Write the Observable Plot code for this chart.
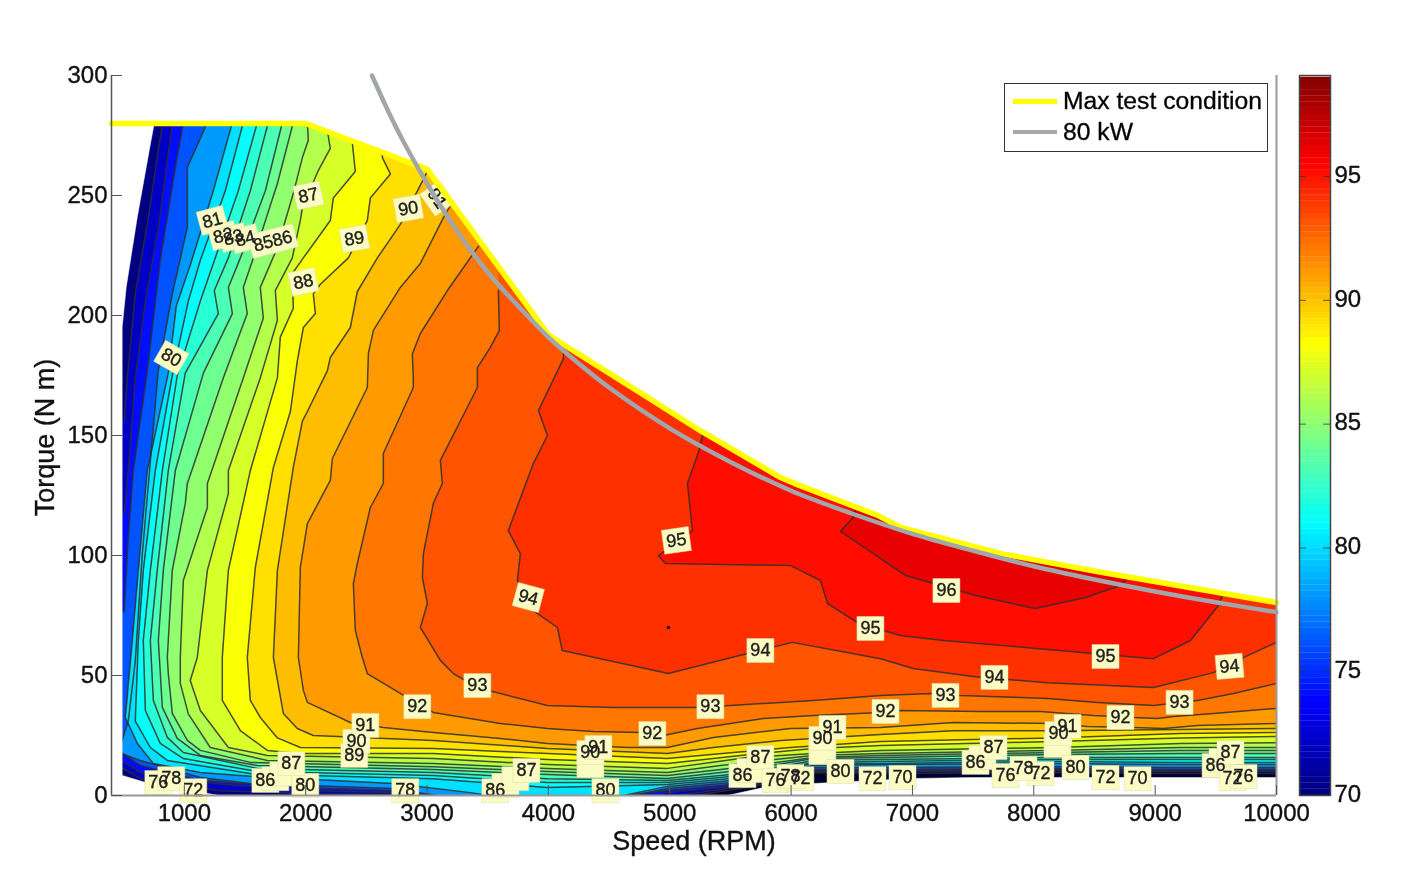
<!DOCTYPE html>
<html><head><meta charset="utf-8">
<script src="https://cdn.jsdelivr.net/npm/d3@7"></script>
<script src="https://cdn.jsdelivr.net/npm/@observablehq/plot@0.6"></script>
<style>
html,body{margin:0;padding:0;background:#fff;}
#wrap{position:relative;width:1416px;height:894px;overflow:hidden;font-family:"Liberation Sans",Arial,sans-serif;}
#wrap svg{position:absolute;top:0;filter:blur(0.55px);}
#wrap svg text{stroke:#111;stroke-width:.35px;}
#legend{position:absolute;left:1004px;top:83px;width:262px;height:67px;border:1.6px solid #333;background:#fff;color:#000;font-size:24.7px;filter:blur(0.45px);-webkit-text-stroke:.35px #111;}
#legend .row{position:absolute;left:8px;display:flex;align-items:center;height:30px;white-space:nowrap;}
#legend .sw{display:inline-block;width:44px;margin-right:6px;}
</style></head><body><div id="wrap"></div>
<script>
// ---- axis ticks ----
const speedTicks = [1000,2000,3000,4000,5000,6000,7000,8000,9000,10000];
const torqueTicks = [0,50,100,150,200,250,300];
const barTicks = [70,75,80,85,90,95];

// ---- boundary curves: [speed RPM, torque N m] ----
const maxTest = [[400,280],[2000,280],[3000,261],[4000,192],[4121,188],[4815,166],[5252,152],[5913,132.5],[6078,129],[6714,116.7],[6904,111.7],[7730,100.8],[8555,93],[10000,80.4]];
const kw80 = [[2546,300],[2700,283],[2800,273],[3000,255],[3250,235],[3500,218],[3750,204],[4000,191],[4250,180],[4500,170],[5000,153],[5500,139],[6000,127],[6500,117.5],[7000,109],[7500,102],[8000,95.5],[8500,90],[9000,85],[9500,80.5],[10000,76.4]];
const outsideLeft = [[400,280],[752,280],[711,268.8],[612,240.8],[521,211.7],[488,195],[488,8.3],[711,5],[1289,0],[1289,-3],[400,-3]];
const outsideBottom = [[5475,0],[5772,3.3],[6184,5],[7008,7.1],[7500,7.5],[10000,7.5],[10000,-3],[5475,-3]];
const baseRegion = [[420,-3],[10000,-3],[10000,285],[420,285]];

// ---- contour lines, one list per efficiency level ----
const c70 = [[720,280],[456,206],[456,9.6],[637,5],[1132,-1],[5088,-1],[5418,1.7],[5640,3.3],[6184,9.6],[6737,9.2],[8162,9.6],[9209,9.2],[10000,9.2]];
const c72 = [[819,280],[703,240.8],[596,209],[530,174],[505,156],[456,155],[456,12.5],[637,7],[1297,2],[1956,.8],[2723,.4],[2945,-1],[4923,-1],[5418,2.5],[5640,4.2],[6184,10],[6737,10],[8162,10.4],[9209,10],[10000,10]];
const c74 = [[901,280],[786,236.7],[679,206],[596,174],[538,135.4],[505,117.5],[456,116.7],[456,15.4],[637,9.6],[1255,5],[1956,2.1],[2723,1.3],[3028,-1],[4841,-1],[4981,1.3],[5418,3.3],[5640,5],[6184,10.4],[6737,10.4],[8162,10.8],[9209,10.4],[10000,10.4]];
const c76 = [[992,280.4],[926,261.7],[802,223],[695,177],[580,135.4],[538,107.5],[505,77],[456,75],[456,18.8],[637,12.5],[1132,6.3],[1956,3.3],[2723,2.1],[3110,-1],[4511,-1],[4981,2.1],[5418,4.2],[5640,5.4],[6184,10.8],[6737,10.8],[8162,11.3],[9209,10.8],[10000,10.8]];
const c78 = [[1190,280.4],[1025,261.7],[1025,236.7],[901,209],[785,177],[654,100.8],[596,56],[538,31],[456,17.9],[637,14.6],[1132,7.5],[1544,5],[2723,2.9],[3192,-1],[4593,-1],[4981,2.9],[5418,5],[5640,6.3],[6184,11.7],[6737,11.7],[8162,12.1],[9209,11.7],[10000,11.7]];
const c80 = [[1396,280.4],[1239,252],[1049,221],[934,204],[868,176],[695,135.4],[621,93.8],[571,64.6],[514,32.5],[613,21.7],[744,13.3],[1132,9.6],[1569,7.9],[2723,5],[3357,1.2],[3769,-2],[4429,-2],[4981,3.8],[5418,5.8],[5640,7.1],[6184,12.5],[6737,12.9],[8162,13.3],[9209,12.9],[10000,12.9]];
const c81 = [[1486,280.4],[1338,252],[1132,223],[1033,206],[901,175],[761,135.4],[662,93.8],[621,64.6],[596,31],[720,20],[860,14.6],[1569,9],[3052,7],[3992,3.3],[4981,4.6],[5418,6.7],[5640,7.9],[6184,13.3],[6737,13.3],[8162,14.2],[9209,13.8],[10000,13.8]];
const c82 = [[1602,280.4],[1445,252],[1255,224],[1132,206],[942,175],[819,135.4],[720,93.8],[662,64.6],[679,35.4],[802,21.7],[992,15.4],[1602,10],[3052,8.3],[3992,5.4],[4981,5.4],[5418,7.5],[5640,8.8],[6184,13.8],[6737,14.2],[8162,15],[9209,15],[10000,15]];
const c83 = [[1692,280.4],[1544,252],[1363,224],[1247,210.4],[1280,200.8],[1008,176],[868,135.4],[777,93.8],[720,64.6],[745,39.6],[860,24.2],[992,17.9],[1602,11.3],[3052,9.6],[3992,7],[4981,6.3],[5418,8.3],[5640,9.6],[6184,14.6],[6737,15],[8162,15.8],[9209,15.8],[10000,15.8]];
const c84 = [[1808,280.4],[1668,252],[1462,224],[1363,211.7],[1396,200.8],[1157,176],[926,135.4],[827,93.8],[786,64.6],[819,36.7],[942,23.8],[1132,16.7],[1602,12.5],[3052,10.8],[3992,8.8],[4981,7.1],[5418,9.6],[5640,10.8],[6184,15.4],[6737,15.8],[8162,17.1],[9209,17.5],[10000,17.5]];
const c85 = [[1898,280.4],[1767,255],[1569,224],[1486,211.7],[1519,200.8],[1321,174],[1025,130],[1008,121.7],[901,93.8],[860,57.5],[868,50.8],[901,34.2],[1025,23],[1132,18.8],[1544,13.8],[3052,12],[3992,10],[4981,8.3],[5418,10.8],[5640,12.1],[6184,15.8],[6737,16.7],[8162,17.9],[9209,18.8],[10000,18.8]];
const c86 = [[2014,280.4],[2022,273],[1973,265.8],[1898,250.8],[1767,228.3],[1626,211.7],[1651,199],[1486,174],[1190,130],[1190,120],[992,89.6],[967,57.5],[967,46.7],[1033,34],[1214,20],[1684,14.6],[3052,13.3],[3992,11.3],[4981,9.6],[5418,12.5],[5640,13.8],[6184,16.7],[6737,17.5],[8162,18.8],[9209,20],[10000,20]];
const c87 = [[2179,277],[2203,269.6],[2104,260.4],[1973,245],[1956,239.6],[1890,224],[1750,210.4],[1767,198],[1626,174],[1363,135.4],[1363,125.8],[1190,93.8],[1107,57.5],[1049,47.9],[1132,35.4],[1363,20],[1684,16.7],[3052,15.4],[3992,12.9],[4981,11.3],[5640,15.8],[6184,17.5],[6737,18.8],[8162,20],[9209,21.7],[10000,22]];
const c88 = [[2385,273.8],[2385,271.7],[2409,260],[2228,249],[2203,239.6],[1981,224],[1890,217.5],[1898,203],[1791,191],[1767,174],[1544,135.4],[1363,93.8],[1313,57.5],[1313,39.6],[1462,27],[1684,18.8],[1956,17.5],[3052,17.5],[3992,15],[4981,13.3],[5583,16.7],[6184,19.6],[6737,20.8],[8162,22.5],[9209,24],[10000,24.6]];
const c89 = [[2632,268.8],[2632,265.8],[2698,259],[2533,249],[2508,239.6],[2352,224],[2121,213],[2063,209],[2080,200.8],[1981,195],[1931,181],[1874,160],[1734,136.7],[1585,95],[1519,57.5],[1544,39.6],[1626,32.5],[1767,24],[1956,20],[3052,19.6],[3992,17.5],[4981,15.4],[5525,17.9],[5995,20],[6737,22.5],[8162,24],[9209,25.8],[10000,26.3]];
const c90 = [[3011,261],[2962,256],[2780,238],[2591,224],[2426,210],[2368,195],[2203,182.5],[2179,177],[2014,160],[1973,156],[1898,136.7],[1767,93.8],[1734,57.5],[1816,34.2],[1931,27.9],[2063,25],[3052,22.9],[3992,19.6],[4981,17.5],[5360,20],[5912,22.9],[6737,25.4],[7338,27],[8162,27],[9209,27.5],[10000,27.9]];
const c91 = [[3192,245.8],[3135,240.8],[2945,221.7],[2780,211.7],[2558,193.8],[2517,184.2],[2508,170],[2220,140.4],[2203,131.3],[2014,113.3],[1956,95],[1940,57.5],[1981,43.8],[2014,38.8],[2368,30.4],[2640,28.3],[3052,26.3],[3604,23.8],[3992,21.7],[4651,20],[4981,20],[5360,24.2],[5995,27.9],[6737,28.3],[7338,30.4],[8162,30],[8442,28.8],[8822,28.3],[9069,27.9],[9349,29.2],[10000,30]];
const c92 = [[3423,228.8],[3168,210.4],[2945,192.5],[2879,184],[2887,174],[2887,170],[2640,142.5],[2640,130],[2533,120],[2426,96.7],[2393,88.3],[2409,68.8],[2467,57.5],[2508,50.8],[2838,40.8],[3052,34.6],[3604,30],[3992,27.9],[4371,26.7],[4758,26.3],[4948,25],[5228,27.9],[5772,32.1],[6184,33.3],[6737,34.6],[6901,35.4],[7561,35],[8055,35],[8492,33.3],[8822,32.5],[9019,32.1],[9151,32.9],[9481,34.2],[10000,36.3]];
const c93 = [[3588,210.4],[3596,193.8],[3522,186.7],[3415,178.3],[3415,170],[3110,139.6],[3126,130],[3052,121.7],[2970,100.8],[2962,90.8],[3003,80],[2945,70],[3110,56.3],[3217,50.8],[3415,45],[3604,42.5],[3992,37.5],[4536,36.7],[5195,36.7],[5500,37.5],[6184,39.6],[6737,41.7],[7149,42.5],[7396,41.7],[8113,40.4],[8525,38.8],[8986,37.5],[9349,39.6],[9646,42.5],[10000,46.7]];
const c94 = [[4124,187.5],[4124,182],[3918,160.4],[3992,150],[3876,138.3],[3670,110.4],[3769,100.8],[3745,89.6],[3811,83.3],[3876,77],[4074,70],[4115,60.4],[4989,50.8],[5640,59.2],[6011,63.8],[6737,57],[7008,52.9],[7561,49.2],[8113,47],[8986,45],[9481,51.2],[9761,58.3],[10000,63.8]];
const c95 = [[5270,154.2],[5270,150],[5236,142.9],[5146,130],[5187,110.4],[4907,100],[4964,96.7],[5995,95.8],[6242,89.6],[6300,80],[6547,72],[6901,66.7],[7256,64.6],[8492,59.2],[8986,57],[9209,62.5],[9291,64.6],[9522,79.2],[9555,83.3]];
const c96 = [[6530,118.8],[6505,115.4],[6407,110],[6943,91.7],[7520,83.3],[8014,77.9],[8426,82.5],[8714,87.5],[8797,91.7]];

const contourLevels = [70,72,74,76,78,80,81,82,83,84,85,86,87,88,89,90,91,92,93,94,95,96];
const contourLines = [c70,c72,c74,c76,c78,c80,c81,c82,c83,c84,c85,c86,c87,c88,c89,c90,c91,c92,c93,c94,c95,c96];
const baseLevel = 64;

// ---- inline contour labels: [speed, torque, text, angle] ----
const contourLabels = [
 [2022,250,"87",-12],[1231,239.6,"81",-15],[1321,233.3,"82",-15],[1404,232.5,"83",-15],[1503,232,"84",-15],[1651,230,"85",-15],[1808,232,"86",-15],
 [2401,232,"89",-10],[1981,214,"88",-12],[2846,244.6,"90",-10],[893,182.5,"80",30],[3085,248.8,"91",55],
 [5055,106.3,"95",-8],[3835,82.5,"94",15],[5747,60.4,"94",0],[7280,85.4,"96",0],[6654,69.6,"95",0],[8591,57.9,"95",0],[7676,49.2,"94",0],[9613,53.8,"94",-5],
 [3415,45.8,"93",0],[5335,37,"93",0],[7272,41.7,"93",0],[9201,38.8,"93",0],[2920,37,"92",0],[4857,25.8,"92",0],[6778,35,"92",0],[8714,32.5,"92",0],
 [2401,16.7,"89",0],[2418,22.5,"90",0],[2492,29.2,"91",0],
 [4346,12.5,"",0],[4346,17.9,"90",0],[4412,20,"91",0],
 [6258,17.9,"",0],[6258,23.8,"90",0],[6341,28.3,"91",0],
 [8195,20.8,"",0],[8203,25.8,"90",0],[8278,28.8,"91",0],
 [786,5.4,"76",0],[893,7,"78",0],[1074,2,"72",0],
 [1668,6.3,"86",0],[1750,7,"",0],[1816,9,"",0],[1997,4.2,"80",0],[1882,13.3,"87",0],
 [3563,2,"86",0],[3646,4.2,"",0],[3728,7,"",0],[3819,10.4,"87",0],[4470,2,"80",0],[2821,2,"78",0],
 [5599,8.3,"86",0],[5665,10.4,"",0],[5747,15.8,"87",0],[5871,6.3,"76",0],[6077,7,"72",0],[5995,7.9,"78",0],
 [6407,10,"80",0],[6671,7,"72",0],[6918,7.5,"70",0],
 [7520,13.8,"86",0],[7577,15.8,"",0],[7668,20,"87",0],[7767,8.3,"76",0],[8055,9.2,"72",0],[7915,11.3,"78",0],
 [8344,11.7,"80",0],[8591,7.5,"72",0],[8855,7,"70",0],
 [9498,12.5,"86",0],[9555,14.6,"",0],[9621,17.9,"87",0],[9638,7,"72",0],[9728,7.9,"76",0]
];
const strayDot = [[4989,70]];
const speedTitle = ["Speed (RPM)"];
const torqueTitle = ["Torque (N m)"];

// ---- MATLAB jet colour ramp used by the map and the colour bar ----
const jetDomain = [64,70,73.625,80.875,88.125,95.375,99];
const jetColors = ["#00002e","#000080","#0000ff","#00ffff","#ffff00","#ff0000","#800000"];
const colorScale = {type:"linear",domain:jetDomain,range:jetColors,interpolate:"rgb",clamp:true};

const closeTop = pts => [...pts,[pts[pts.length-1][0],285],[pts[0][0],285]];
const bandMark = (pts,level) => Plot.line(closeTop(pts),{x:d=>d[0],y:d=>d[1],fill:()=>level,stroke:null,clip:true});
const bands = contourLines.map((pts,i)=>bandMark(pts,contourLevels[i]));
const strokes = contourLines.map(pts=>Plot.line(pts,{x:d=>d[0],y:d=>d[1],stroke:"#2e2e2e",strokeWidth:1.5,strokeOpacity:.85,clip:true}));
const mask = pts => Plot.line(pts,{x:d=>d[0],y:d=>d[1],fill:"#fff",stroke:"#fff",strokeWidth:.5,clip:false});
const maskTop = [...maxTest,[10000,296],[400,296]];
const labelBox = {draw(c){c.rect(-13.5,-12,27,24);}};
const font = {fontFamily:"Liberation Sans, Arial, sans-serif"};

const chart = Plot.plot({
  width:1416,height:894,marginLeft:111,marginRight:140,marginTop:75,marginBottom:99,
  style:{...font,fontSize:"24px",background:"transparent",color:"#111"},
  x:{domain:[400,10000]},y:{domain:[0,300]},color:colorScale,
  marks:[
    Plot.line(baseRegion,{x:d=>d[0],y:d=>d[1],fill:()=>baseLevel,stroke:null,clip:true}),
    ...bands,...strokes,
    mask(maskTop),mask(outsideLeft),mask(outsideBottom),
    Plot.dot(strayDot,{x:d=>d[0],y:d=>d[1],r:1.8,fill:"#111"}),
    Plot.dot(contourLabels,{x:d=>d[0],y:d=>d[1],rotate:d=>d[3],symbol:labelBox,fill:"#fbfbc4",stroke:"#dcdcac",strokeWidth:.5,r:3}),
    Plot.text(contourLabels,{x:d=>d[0],y:d=>d[1],text:d=>d[2],rotate:d=>d[3],fontSize:18,fill:"#222"}),
    Plot.line(maxTest,{x:d=>d[0],y:d=>d[1],stroke:"#ffff00",strokeWidth:5.5}),
    Plot.line(kw80,{x:d=>d[0],y:d=>d[1],stroke:"#a2a6aa",strokeWidth:4.5,curve:"catmull-rom"}),
    Plot.ruleX([400],{stroke:"#555",strokeWidth:1.5}),
    Plot.ruleX([10000],{stroke:"#999",strokeWidth:2}),
    Plot.ruleY([0],{stroke:"#999",strokeWidth:2}),
    Plot.axisX({ticks:speedTicks,tickFormat:"d",tickSize:-10,tickPadding:18,stroke:"#555",label:null,fontSize:24}),
    Plot.axisY({ticks:torqueTicks,tickSize:-11,tickPadding:15,stroke:"#555",label:null,fontSize:24}),
    Plot.text(speedTitle,{text:d=>d,frameAnchor:"bottom",lineAnchor:"middle",dy:46,fontSize:27}),
    Plot.text(torqueTitle,{text:d=>d,frameAnchor:"left",textAnchor:"middle",lineAnchor:"middle",rotate:-90,dx:-66,dy:2,fontSize:27})
  ]
});

const barBands = d3.range(70,99,.25);
const colorBar = Plot.plot({
  width:126,height:896,marginLeft:9,marginRight:86,marginTop:75,marginBottom:101,
  style:{...font,fontSize:"24px",background:"transparent",color:"#111"},
  x:{domain:[0,1],axis:null},y:{domain:[70,99.08]},color:colorScale,
  marks:[
    Plot.rect(barBands,{x1:()=>0,x2:()=>1,y1:d=>d,y2:d=>d+.26,fill:d=>d,inset:0,clip:true}),
    Plot.ruleY(barTicks,{x1:()=>0,x2:()=>.22,stroke:"#333",strokeOpacity:.8}),
    Plot.ruleY(barTicks,{x1:()=>.78,x2:()=>1,stroke:"#333",strokeOpacity:.8}),
    Plot.frame({stroke:"#444",strokeWidth:1.5}),
    Plot.axisY({anchor:"right",ticks:barTicks,tickSize:0,tickPadding:4,dy:-1.5,label:null,fontSize:24})
  ]
});
colorBar.style.left="1290px";

const wrap=document.getElementById("wrap");
wrap.append(chart,colorBar);
const legend=document.createElement("div");
legend.id="legend";
legend.innerHTML=`<div class="row" style="top:2px"><span class="sw" style="height:5px;background:#ffff00"></span>Max test condition</div>
<div class="row" style="top:33px"><span class="sw" style="height:4px;background:#a8a8a8"></span>80 kW</div>`;
wrap.append(legend);
</script></body></html>
